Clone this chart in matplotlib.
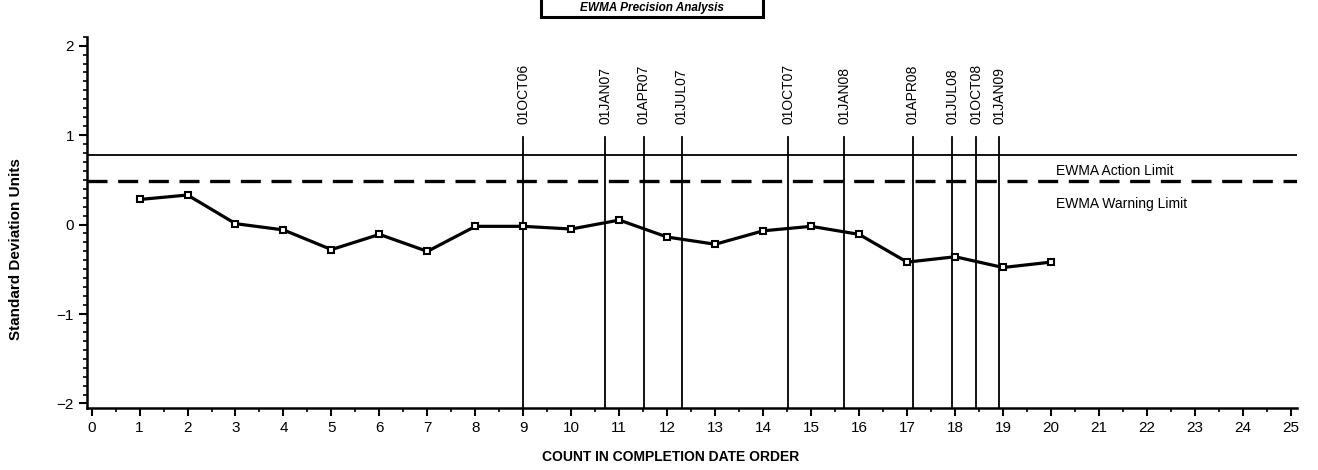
import matplotlib
matplotlib.use("Agg")
import matplotlib.pyplot as plt
from matplotlib.patches import Rectangle
from matplotlib.ticker import MultipleLocator

# ── Data ──────────────────────────────────────────────────────
count = list(range(1, 21))
ewma = [0.28, 0.33, 0.01, -0.06, -0.28, -0.11, -0.30, -0.02, -0.02, -0.05,
        0.05, -0.14, -0.22, -0.07, -0.02, -0.11, -0.42, -0.36, -0.48, -0.42]
action_limit = 0.78
warning_limit = 0.49
date_pos = [9.0, 10.71, 11.51, 12.30, 14.52, 15.69, 17.12, 17.94, 18.44, 18.92]
date_labels = ["01OCT06", "01JAN07", "01APR07", "01JUL07", "01OCT07",
               "01JAN08", "01APR08", "01JUL08", "01OCT08", "01JAN09"]

plt.rcParams["font.family"] = ["Liberation Sans Narrow", "Liberation Sans", "DejaVu Sans"]

W, H = 1318, 470
fig = plt.figure(figsize=(W / 100, H / 100), dpi=100)
ax = fig.add_axes([0.0662, 0.132, 0.918, 0.790])

# limits
ax.axhline(action_limit, color="black", lw=1.3, zorder=2)
ax.axhline(warning_limit, color="black", lw=2.4, dashes=(6, 3.2), zorder=2)
ax.text(20.1, 0.60, "EWMA Action Limit", fontsize=10, va="center", ha="left")
ax.text(20.1, 0.235, "EWMA Warning Limit", fontsize=10, va="center", ha="left")

# date reference lines
for pos, lab in zip(date_pos, date_labels):
    ax.plot([pos, pos], [-2.05, 0.975], color="black", lw=1.3, zorder=2)
    ax.text(pos, 1.12, lab, rotation=90, ha="center", va="bottom",
            fontsize=10, family=["Liberation Sans", "DejaVu Sans"])

# EWMA series
ax.plot(count, ewma, color="black", lw=2.3, marker="s", markersize=5,
        markerfacecolor="white", markeredgecolor="black", markeredgewidth=1.5,
        zorder=4)

# ── Axes ──────────────────────────────────────────────────────
ax.set_xlim(-0.09, 25.13)
ax.set_ylim(-2.05, 2.1)
ax.xaxis.set_major_locator(MultipleLocator(1))
ax.xaxis.set_minor_locator(MultipleLocator(0.5))
ax.yaxis.set_major_locator(MultipleLocator(1))
ax.yaxis.set_minor_locator(MultipleLocator(0.1))
ax.tick_params(axis="both", which="major", length=6, width=1.5, labelsize=11)
ax.tick_params(axis="both", which="minor", length=3, width=1.2)
ax.set_yticks([-2, -1, 0, 1, 2])
ax.set_yticklabels(["\u22122", "\u22121", "0", "1", "2"])
for side in ("top", "right"):
    ax.spines[side].set_visible(False)
for side in ("left", "bottom"):
    ax.spines[side].set_linewidth(1.8)

fig.text(0.012, 0.47, "Standard Deviation Units", rotation=90, ha="center",
         va="center", fontsize=11, fontweight="bold",
         family=["Liberation Sans", "DejaVu Sans"])
fig.text(0.509, 0.027, "COUNT IN COMPLETION DATE ORDER", ha="center", va="center",
         fontsize=10, fontweight="bold", family=["Liberation Sans", "DejaVu Sans"])

# title box at the top edge
box_x0, box_x1 = 541 / W, 763 / W
box_y0 = 1 - 17 / H
fig.patches.append(Rectangle((box_x0, box_y0), box_x1 - box_x0, 0.1,
                             transform=fig.transFigure, fc="white", ec="black",
                             lw=2.2))
fig.text((box_x0 + box_x1) / 2, 1 - 8.5 / H, "EWMA Precision Analysis",
         ha="center", va="center", fontsize=8.5, fontweight="bold",
         fontstyle="italic", family=["Liberation Sans", "DejaVu Sans"])

fig.savefig("out.png", dpi=100)
